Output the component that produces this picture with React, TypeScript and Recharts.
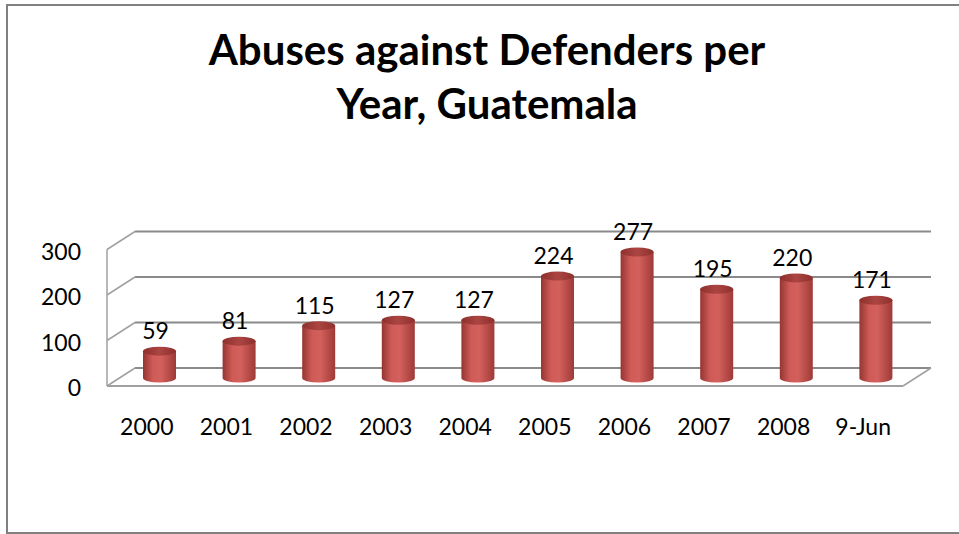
import React from 'react';
import { BarChart, Bar, XAxis, YAxis, CartesianGrid, LabelList } from 'recharts';

const categories = ['2000', '2001', '2002', '2003', '2004', '2005', '2006', '2007', '2008', '9-Jun'];
const abuses = [59, 81, 115, 127, 127, 224, 277, 195, 220, 171];
const yTicks = [0, 100, 200, 300];

const data = categories.map((year, i) => ({ year, abuses: abuses[i] }));

// 3D depth offsets (front plane / back wall relative to the bar plane)
const FRONT_DX = -13;
const FRONT_DY = 8;
const BACK_DX = 15;
const BACK_DY = -10;
const FONT = 'Lato, "Open Sans", sans-serif';

const gridLine = (props: any) => {
  const { x1, x2, y1, y, height, index } = props;
  const isFloor = Math.abs(y1 - (y + height)) < 1;
  const isTop = Math.abs(y1 - y) < 1;
  return (
    <g key={`grid-${index}`}>
      <line x1={x1 + BACK_DX} y1={y1 + BACK_DY} x2={x2 + BACK_DX} y2={y1 + BACK_DY} stroke="#8a8a8a" strokeWidth={2} />
      <line x1={x1 + FRONT_DX} y1={y1 + FRONT_DY} x2={x1 + BACK_DX} y2={y1 + BACK_DY} stroke="#a0a0a0" strokeWidth={1.5} />
      {isFloor && (
        <>
          <line x1={x1 + FRONT_DX} y1={y1 + FRONT_DY} x2={x2 + FRONT_DX} y2={y1 + FRONT_DY} stroke="#a0a0a0" strokeWidth={2} />
          <line x1={x2 + FRONT_DX} y1={y1 + FRONT_DY} x2={x2 + BACK_DX} y2={y1 + BACK_DY} stroke="#a0a0a0" strokeWidth={1.5} />
        </>
      )}
      {isTop && (
        <line x1={x1 + FRONT_DX} y1={y1 + FRONT_DY} x2={x1 + FRONT_DX} y2={y + height + FRONT_DY} stroke="#a0a0a0" strokeWidth={1.5} />
      )}
    </g>
  );
};

const Cylinder = (props: any) => {
  const { x, y, width, height } = props;
  const rx = width / 2;
  const ry = 4.5;
  const yb = y + height;
  return (
    <g>
      <path
        d={`M${x},${y} L${x},${yb} A${rx},${ry} 0 0 0 ${x + width},${yb} L${x + width},${y} Z`}
        fill="url(#cylBody)"
      />
      <ellipse cx={x + rx} cy={y} rx={rx} ry={ry} fill="url(#cylTop)" />
    </g>
  );
};

const XTick = (props: any) => {
  const { x, y, payload } = props;
  return (
    <text x={x + FRONT_DX} y={y + 40} textAnchor="middle" dominantBaseline="central" fill="#000" fontSize={23} fontFamily={FONT}>
      {payload.value}
    </text>
  );
};

const YTick = (props: any) => {
  const { x, y, payload } = props;
  return (
    <text x={x - 31} y={y + FRONT_DY + 1} textAnchor="end" dominantBaseline="central" fill="#000" fontSize={23} fontFamily={FONT}>
      {payload.value}
    </text>
  );
};

const ValueLabel = (props: any) => {
  const { x, y, width, value } = props;
  return (
    <text x={x + width / 2 - 4} y={y - 21} textAnchor="middle" dominantBaseline="central" fill="#000" fontSize={23} fontFamily={FONT}>
      {value}
    </text>
  );
};

export default function App() {
  return (
    <div style={{ position: 'absolute', left: 0, top: 0, width: 959, height: 534, overflow: 'hidden', background: '#fff' }}>
      <div
        style={{
          position: 'absolute', left: 6, top: 4, width: 1000, height: 530,
          border: '2px solid #808080', boxSizing: 'border-box',
        }}
      />
      <div
        style={{
          position: 'absolute', left: 0, top: 22, width: 974, textAlign: 'center',
          fontFamily: FONT, fontWeight: 700, fontSize: 42, lineHeight: '54px', color: '#000',
        }}
      >
        Abuses against Defenders per
        <br />
        Year, Guatemala
      </div>
      <div style={{ position: 'absolute', left: 0, top: 0 }}>
        <BarChart
          width={959}
          height={534}
          data={data}
          margin={{ top: 241.5, right: 43, bottom: 0, left: 0 }}
          barCategoryGap={0}
        >
          <defs>
            <linearGradient id="cylBody" x1="0" y1="0" x2="1" y2="0">
              <stop offset="0%" stopColor="#953532" />
              <stop offset="30%" stopColor="#cf5b57" />
              <stop offset="55%" stopColor="#d3605c" />
              <stop offset="100%" stopColor="#9e3a37" />
            </linearGradient>
            <linearGradient id="cylTop" x1="0" y1="0" x2="1" y2="0">
              <stop offset="0%" stopColor="#8e302d" />
              <stop offset="50%" stopColor="#ab4542" />
              <stop offset="100%" stopColor="#8e302d" />
            </linearGradient>
          </defs>
          <CartesianGrid vertical={false} horizontal={gridLine} />
          <XAxis dataKey="year" axisLine={false} tickLine={false} tick={<XTick />} height={156} interval={0} />
          <YAxis
            domain={[0, 300]}
            ticks={yTicks}
            axisLine={false}
            tickLine={false}
            tick={<YTick />}
            width={120}
          />
          <Bar dataKey="abuses" barSize={33} shape={<Cylinder />} isAnimationActive={false}>
            <LabelList dataKey="abuses" content={<ValueLabel />} />
          </Bar>
        </BarChart>
      </div>
    </div>
  );
}
